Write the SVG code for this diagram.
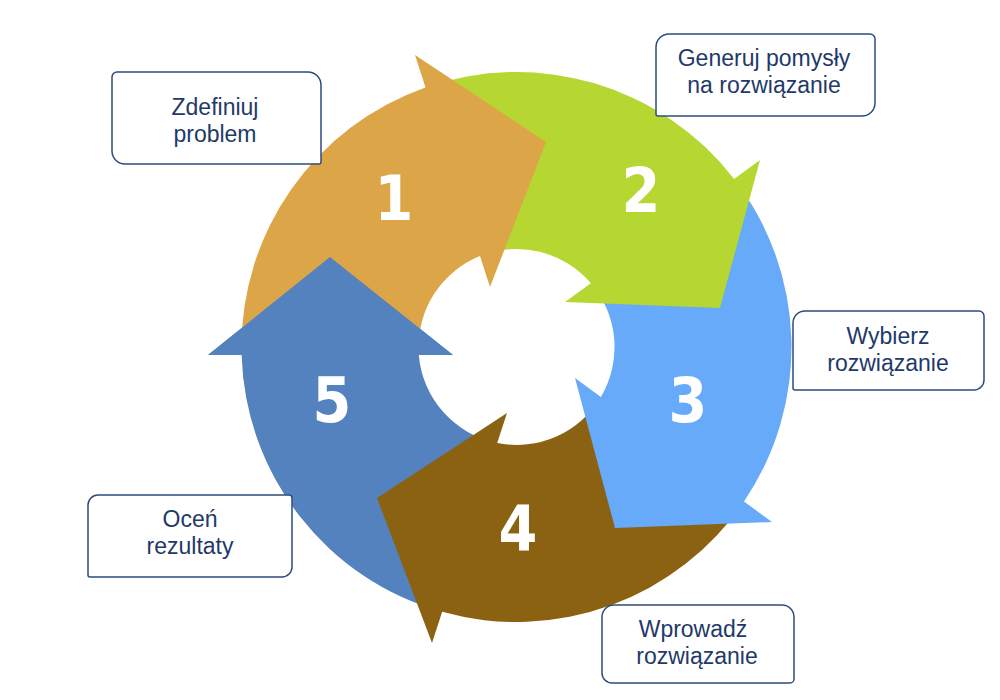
<svg xmlns="http://www.w3.org/2000/svg" width="1000" height="700" viewBox="0 0 1000 700">
<style>
.box{fill:#ffffff;stroke:#2F4B7C;stroke-width:1.5}
.lbl{font-family:"Liberation Sans",Arial,sans-serif;font-size:23px;fill:#1F3A68;text-anchor:middle}
.num{font-family:"DejaVu Sans Condensed","DejaVu Sans",sans-serif;font-stretch:condensed;font-weight:bold;font-size:62px;fill:#ffffff;text-anchor:middle}
</style>
<rect width="1000" height="700" fill="#ffffff"/>
<g id="cycle">
  <path id="arrow5" fill="#5382BE" d="M442.2,611.8 A275,275 0 0 1 241.6,355 L208,355 L330,257 L453,355 L418.8,355 A98,98 0 0 0 497.2,443 Z"/>
  <path id="arrow4" fill="#8B6212" d="M744,501.5 A275,275 0 0 1 442.2,611.8 L432,643 L377,498 L507,413 L497.2,443 A98,98 0 0 0 600.9,396.9 Z"/>
  <path id="arrow3" fill="#66AAF9" d="M734.1,178.9 A275,275 0 0 1 744,501.5 L772,522 L615,528 L575,378 L600.9,396.9 A98,98 0 0 0 590.9,283.2 Z"/>
  <path id="arrow2" fill="#B6D631" d="M425.5,87.5 A275,275 0 0 1 734.1,178.9 L760,160 L720,308 L565,302 L590.9,283.2 A98,98 0 0 0 480,256 Z"/>
  <path id="arrow1" fill="#DCA547" d="M241.5,350 A275,275 0 0 1 425.5,87.5 L415,55 L546,142 L490,287 L480,256 A98,98 0 0 0 418.6,350 Z"/>
  <polygon id="arrow5-head" fill="#5382BE" points="208,355 330,257 453,355"/>
</g>
<g id="numbers">
  <text class="num" x="394" y="220">1</text>
  <text class="num" x="641" y="212">2</text>
  <text class="num" x="688" y="422">3</text>
  <text class="num" x="518" y="550">4</text>
  <text class="num" x="332" y="422">5</text>
</g>
<g id="step1">
  <path class="box" d="M117,72 H308 A13 13 0 0 1 321,85 V162 A2 2 0 0 1 319,164 H125 A13 13 0 0 1 112,151 V77 A5 5 0 0 1 117,72 Z"/>
  <text class="lbl" x="215" y="115">Zdefiniuj</text>
  <text class="lbl" x="215" y="142">problem</text>
</g>
<g id="step2">
  <path class="box" d="M669,34 H870 A5 5 0 0 1 875,39 V103 A13 13 0 0 1 862,116 H658 A2 2 0 0 1 656,114 V47 A13 13 0 0 1 669,34 Z"/>
  <text class="lbl" x="764" y="66">Generuj pomysły</text>
  <text class="lbl" x="764" y="93">na rozwiązanie</text>
</g>
<g id="step3">
  <path class="box" d="M805,311 H979 A5 5 0 0 1 984,316 V380 A10 10 0 0 1 974,390 H795 A2 2 0 0 1 793,388 V323 A12 12 0 0 1 805,311 Z"/>
  <text class="lbl" x="888" y="344">Wybierz</text>
  <text class="lbl" x="888" y="371">rozwiązanie</text>
</g>
<g id="step4">
  <path class="box" d="M614,605 H782 A12 12 0 0 1 794,617 V679 A4 4 0 0 1 790,683 H612 A10 10 0 0 1 602,673 V617 A12 12 0 0 1 614,605 Z"/>
  <text class="lbl" x="693" y="637">Wprowadź</text>
  <text class="lbl" x="697" y="664">rozwiązanie</text>
</g>
<g id="step5">
  <path class="box" d="M98,495 H289 A3 3 0 0 1 292,498 V567 A10 10 0 0 1 282,577 H90 A2 2 0 0 1 88,575 V505 A10 10 0 0 1 98,495 Z"/>
  <text class="lbl" x="190" y="527">Oceń</text>
  <text class="lbl" x="190" y="554">rezultaty</text>
</g>
</svg>
